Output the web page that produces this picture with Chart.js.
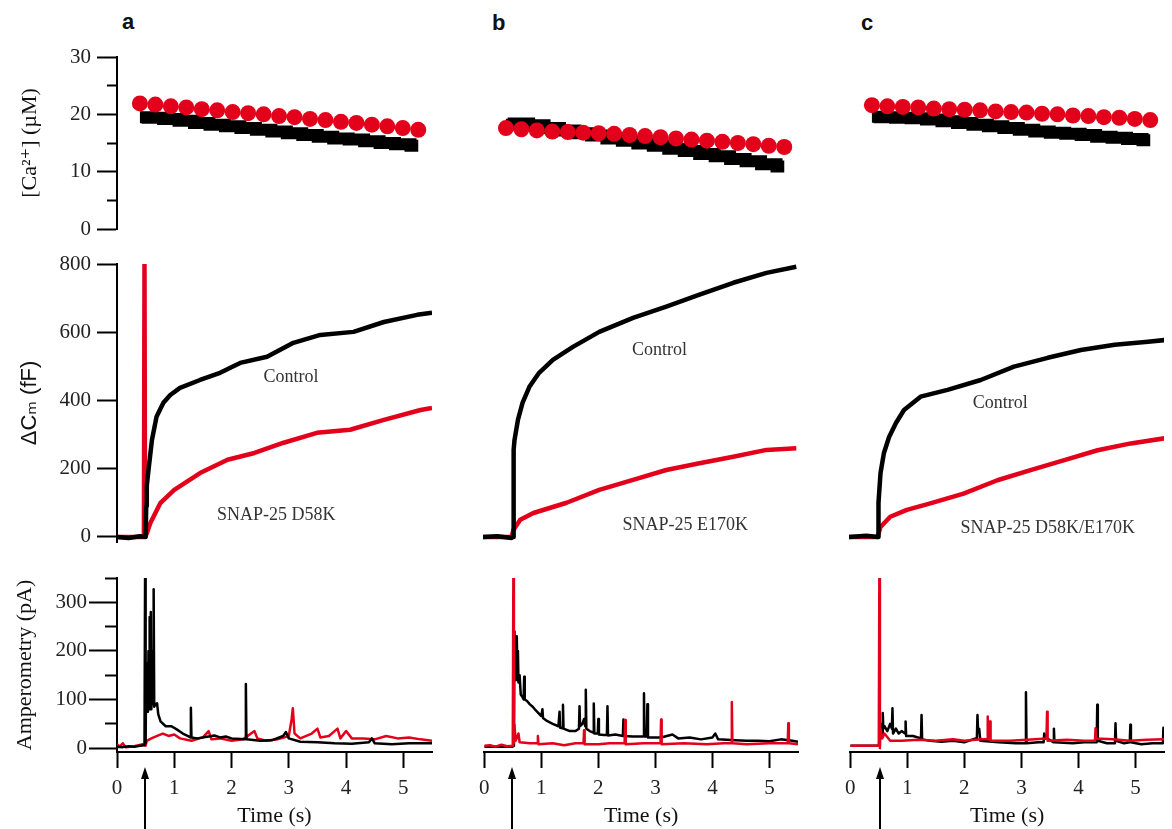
<!DOCTYPE html>
<html>
<head>
<meta charset="utf-8">
<script src="https://cdn.jsdelivr.net/npm/chart.js@4.4.1/dist/chart.umd.min.js"></script>
<style>
  html, body { margin: 0; padding: 0; background: #fff; }
  #fig { position: relative; width: 1172px; height: 829px; overflow: hidden; background: #fff; }
  #fig canvas { position: absolute; }
  .tag { position: absolute; font: bold 22px "Liberation Sans", Arial, sans-serif; line-height: 22px; color: #111; }
</style>
</head>
<body>
<div id="fig">
  <div class="tag" style="left:122px;top:11px">a</div>
  <div class="tag" style="left:492px;top:12px">b</div>
  <div class="tag" style="left:861px;top:12px">c</div>
</div>
<script>
/* ========= Datos ========= */
// [Ca2+] (µM): tiempos de muestreo compartidos
const caT = [0.40, 0.67, 0.94, 1.21, 1.48, 1.75, 2.02, 2.29, 2.56, 2.83, 3.10, 3.37, 3.64, 3.91, 4.18, 4.45, 4.72, 4.99, 5.26];
const caA_ctrl = [19.5, 19.4, 19.2, 18.9, 18.5, 18.2, 17.9, 17.6, 17.3, 17.0, 16.7, 16.4, 16.1, 15.8, 15.6, 15.3, 15.0, 14.8, 14.5];
const caA_mut  = [21.9, 21.7, 21.4, 21.2, 20.9, 20.7, 20.4, 20.2, 20.0, 19.7, 19.5, 19.2, 19.0, 18.7, 18.5, 18.2, 17.9, 17.6, 17.3];
const caB_ctrl = [18.2, 18.4, 18.1, 17.6, 17.2, 16.7, 16.3, 15.8, 15.4, 14.9, 14.5, 14.0, 13.6, 13.1, 12.7, 12.2, 11.8, 11.3, 10.9];
const caB_mut  = [17.6, 17.4, 17.2, 17.0, 16.9, 16.8, 16.7, 16.6, 16.4, 16.2, 16.0, 15.8, 15.6, 15.4, 15.2, 15.0, 14.8, 14.5, 14.3];
const caC_ctrl = [19.6, 19.5, 19.4, 19.3, 19.1, 18.8, 18.5, 18.2, 17.9, 17.6, 17.3, 17.0, 16.8, 16.6, 16.4, 16.1, 15.9, 15.7, 15.5];
const caC_mut  = [21.6, 21.4, 21.3, 21.2, 21.0, 20.9, 20.8, 20.7, 20.5, 20.4, 20.3, 20.1, 20.0, 19.8, 19.7, 19.5, 19.4, 19.2, 19.0];

// ΔCm (fF): pares [t (s), valor]
const cmA_ctrl = [[0, 0], [0.2, -3], [0.4, 2], [0.5, 0], [0.51, 90], [0.52, 150], [0.55, 196], [0.61, 284], [0.69, 352], [0.81, 393], [0.93, 416], [1.1, 437], [1.45, 460], [1.8, 481], [2.15, 510], [2.62, 528], [3.08, 569], [3.55, 592], [4.13, 601], [4.66, 630], [5.24, 651], [5.5, 657]];
const cmA_mut  = [[0, 0], [0.47, 0], [0.48, 800], [0.49, 0], [0.52, 10], [0.58, 40], [0.76, 100], [1.0, 138], [1.45, 187], [1.93, 226], [2.4, 246], [2.91, 276], [3.49, 305], [4.07, 314], [4.66, 343], [5.3, 372], [5.5, 378]];
const cmB_ctrl = [[0, 0], [0.25, 2], [0.5, -3], [0.53, 0], [0.535, 255], [0.55, 284], [0.61, 343], [0.69, 393], [0.81, 440], [0.98, 481], [1.22, 519], [1.57, 557], [2.03, 601], [2.62, 642], [3.2, 675], [3.78, 710], [4.37, 745], [4.95, 774], [5.47, 792]];
const cmB_mut  = [[0, 0], [0.5, 0], [0.53, 20], [0.65, 50], [0.88, 70], [1.46, 100], [2.03, 138], [2.62, 167], [3.2, 196], [3.78, 216], [4.37, 235], [4.95, 255], [5.47, 260]];
const cmC_ctrl = [[0, 0], [0.3, 3], [0.51, 0], [0.515, 100], [0.55, 187], [0.61, 246], [0.7, 293], [0.82, 334], [0.96, 372], [1.25, 411], [1.72, 431], [2.3, 460], [2.88, 499], [3.47, 525], [4.05, 548], [4.64, 563], [5.22, 572], [5.51, 577]];
const cmC_mut  = [[0, 0], [0.5, 0], [0.55, 29], [0.72, 59], [1.01, 79], [1.42, 98], [2.0, 127], [2.59, 166], [3.17, 196], [3.76, 225], [4.34, 254], [4.92, 274], [5.51, 289]];

// Amperometría (pA): pares [t (s), valor]
const ampA_ctrl = [[0, 3], [0.1, 2], [0.2, 4], [0.3, 3], [0.4, 5], [0.48, 6], [0.49, 350], [0.5, 10], [0.51, 170], [0.52, 80], [0.53, 175], [0.54, 75], [0.55, 200], [0.56, 80], [0.57, 270], [0.58, 85], [0.59, 280], [0.6, 80], [0.62, 200], [0.63, 90], [0.64, 327], [0.65, 85], [0.67, 90], [0.7, 92], [0.72, 70], [0.76, 55], [0.85, 45], [0.95, 45], [1.05, 38], [1.15, 30], [1.25, 24], [1.28, 22], [1.29, 83], [1.3, 22], [1.4, 20], [1.6, 24], [1.7, 26], [1.8, 22], [1.9, 24], [2.0, 20], [2.24, 18], [2.25, 132], [2.26, 18], [2.5, 15], [2.7, 16], [2.9, 25], [2.95, 33], [3.0, 20], [3.2, 13], [3.5, 12], [3.8, 10], [4.1, 9], [4.4, 12], [4.45, 20], [4.5, 10], [4.8, 8], [5.1, 10], [5.5, 10]];
const ampA_mut  = [[0, 8], [0.05, 3], [0.1, 10], [0.15, 2], [0.3, 4], [0.45, 8], [0.5, 5], [0.52, 15], [0.6, 20], [0.7, 25], [0.8, 30], [0.9, 25], [1.0, 28], [1.1, 20], [1.3, 15], [1.5, 22], [1.6, 35], [1.65, 18], [1.8, 20], [2.0, 15], [2.2, 18], [2.4, 35], [2.45, 20], [2.6, 15], [2.8, 18], [3.0, 25], [3.05, 60], [3.07, 82], [3.1, 30], [3.2, 20], [3.4, 30], [3.5, 40], [3.55, 22], [3.7, 25], [3.85, 40], [3.9, 20], [4.0, 35], [4.1, 20], [4.3, 20], [4.5, 18], [4.7, 25], [4.9, 20], [5.1, 22], [5.3, 18], [5.5, 15]];
const ampB_ctrl = [[0, 3], [0.5, 3], [0.52, 5], [0.53, 240], [0.54, 150], [0.55, 225], [0.56, 140], [0.57, 230], [0.58, 160], [0.59, 200], [0.6, 135], [0.62, 150], [0.64, 110], [0.67, 105], [0.69, 100], [0.7, 147], [0.71, 100], [0.75, 97], [0.8, 90], [0.85, 85], [0.9, 78], [0.95, 72], [1.0, 66], [1.01, 66], [1.02, 80], [1.03, 62], [1.1, 56], [1.2, 50], [1.3, 45], [1.31, 45], [1.32, 75], [1.33, 42], [1.37, 41], [1.38, 89], [1.39, 40], [1.5, 35], [1.6, 35], [1.66, 40], [1.67, 86], [1.68, 45], [1.72, 50], [1.75, 60], [1.77, 45], [1.78, 120], [1.79, 40], [1.85, 35], [1.91, 32], [1.92, 92], [1.93, 30], [1.99, 30], [2.0, 60], [2.01, 28], [2.1, 27], [2.15, 27], [2.16, 86], [2.17, 26], [2.3, 28], [2.43, 25], [2.44, 59], [2.45, 25], [2.6, 24], [2.79, 24], [2.8, 113], [2.81, 24], [2.85, 24], [2.86, 90], [2.87, 22], [3.1, 22], [3.3, 28], [3.4, 20], [3.6, 22], [3.8, 18], [4.0, 22], [4.05, 30], [4.1, 18], [4.4, 16], [4.6, 15], [4.8, 15], [5.0, 14], [5.2, 18], [5.4, 15], [5.5, 13]];
const ampB_mut  = [[0, 5], [0.1, 6], [0.2, 3], [0.3, 7], [0.4, 4], [0.5, 5], [0.51, 352], [0.52, 10], [0.53, 48], [0.55, 15], [0.6, 30], [0.62, 12], [0.8, 10], [0.93, 10], [0.94, 25], [0.95, 8], [1.2, 10], [1.4, 6], [1.6, 10], [1.74, 10], [1.75, 37], [1.76, 8], [2.0, 8], [2.2, 10], [2.46, 10], [2.47, 58], [2.48, 8], [2.8, 10], [3.09, 10], [3.1, 59], [3.11, 8], [3.5, 10], [3.9, 8], [4.2, 10], [4.33, 10], [4.34, 95], [4.35, 10], [4.6, 8], [5.0, 10], [5.32, 10], [5.33, 51], [5.34, 10], [5.5, 8]];
const ampC_ctrl = [[0, 5], [0.5, 5], [0.52, 20], [0.55, 50], [0.56, 30], [0.57, 72], [0.58, 40], [0.6, 45], [0.65, 35], [0.7, 50], [0.73, 40], [0.74, 82], [0.75, 30], [0.8, 40], [0.85, 30], [0.9, 35], [0.96, 30], [0.97, 55], [0.98, 25], [1.1, 25], [1.24, 20], [1.25, 68], [1.26, 18], [1.4, 15], [1.6, 13], [1.8, 15], [2.0, 12], [2.2, 20], [2.22, 20], [2.23, 68], [2.24, 40], [2.26, 40], [2.28, 15], [2.6, 12], [2.9, 10], [3.07, 10], [3.08, 115], [3.09, 10], [3.3, 12], [3.39, 12], [3.4, 30], [3.45, 20], [3.56, 12], [3.57, 40], [3.58, 12], [3.9, 10], [4.1, 12], [4.32, 12], [4.33, 89], [4.34, 15], [4.5, 10], [4.64, 10], [4.65, 51], [4.66, 15], [4.8, 10], [4.9, 12], [4.91, 48], [4.92, 12], [5.1, 8], [5.3, 10], [5.48, 10], [5.49, 42], [5.5, 10]];
const ampC_mut  = [[0, 5], [0.5, 5], [0.51, 352], [0.52, 0], [0.53, 40], [0.56, 20], [0.6, 30], [0.7, 15], [0.9, 15], [1.2, 17], [1.5, 15], [1.8, 18], [2.0, 15], [2.3, 18], [2.4, 18], [2.41, 65], [2.42, 20], [2.44, 20], [2.45, 55], [2.46, 15], [2.8, 15], [3.1, 17], [3.44, 20], [3.45, 75], [3.46, 15], [3.8, 17], [4.1, 15], [4.29, 15], [4.3, 41], [4.31, 20], [4.6, 18], [4.9, 15], [5.2, 17], [5.5, 18]];

// Marcas de los ejes
const timeTicks = [0, 1, 2, 3, 4, 5];
const caTicks = [0, 5, 10, 15, 20, 25, 30];
const cmTicks = [0, 200, 400, 600, 800];
const ampTicks = [0, 50, 100, 150, 200, 250, 300, 350];

// Momento del flash (flecha) y rótulos de cada columna
const flashT = [0.49, 0.48, 0.53];
const mutNames = ["SNAP-25 D58K", "SNAP-25 E170K", "SNAP-25 D58K/E170K"];
const ctrlPos = [[3.04, 469], [3.08, 548], [2.64, 393]];
const mutPos = [[2.78, 64], [3.53, 35], [3.47, 26]];

/* ========= Estilo / layout ========= */
const RED = "#e3001b";
const INK = "#000";
const SERIF = '"Liberation Serif", "DejaVu Serif", "Times New Roman", serif';
const SANS = '"Liberation Sans", "DejaVu Sans", Arial, sans-serif';
const AREA_W = 315;

Chart.defaults.font.family = SERIF;
Chart.defaults.font.size = 21;
Chart.defaults.color = "#222";

const COLS = [
  { left: 117, yAxis: true },
  { left: 483, yAxis: false },
  { left: 849, yAxis: false },
];

const ROWS = {
  ca:  { top: 57,  h: 172, room: 24, xAxis: false, min: 0,   max: 30,  ticks: caTicks,  major: 10,  tick: 20, minor: 10, pad: 6,
         title: "[Ca²⁺] (µM)", titleFont: SERIF, titlePad: 17 },
  cm:  { top: 264, h: 278, room: 24, xAxis: false, min: -15, max: 800, ticks: cmTicks,  major: 200, tick: 20, minor: 20, pad: 6,
         title: "ΔCₘ (fF)", titleFont: SANS, titlePad: 17 },
  amp: { top: 578, h: 174, room: 77, xAxis: true,  min: -8,  max: 350, ticks: ampTicks, major: 100, tick: 28, minor: 12, pad: 2,
         title: "Amperometry (pA)", titleFont: SERIF, titlePad: 12 },
};

/* ========= Helpers ========= */
const pairs = (arr) => arr.map(([x, y]) => ({ x, y }));
const zipT = (ts, vs) => ts.map((x, i) => ({ x, y: vs[i] }));
const asTicks = (vals) => (s) => { s.ticks = vals.map((value) => ({ value })); };

function caSets(ctrl, mut) {
  return [
    { data: zipT(caT, mut), showLine: false, pointRadius: 8, pointBackgroundColor: RED, pointBorderWidth: 0 },
    { data: zipT(caT, ctrl), borderColor: INK, borderWidth: 12, stepped: "middle", pointRadius: 0, borderCapStyle: "butt" },
  ];
}

function traceSets(ctrl, mut, width, redOnTop) {
  const black = { data: pairs(ctrl), borderColor: INK, borderWidth: width, pointRadius: 0, borderJoinStyle: "round" };
  const red = { data: pairs(mut), borderColor: RED, borderWidth: width, pointRadius: 0, borderJoinStyle: "round" };
  return redOnTop ? [red, black] : [black, red];
}

/* ========= Plugin: rótulos y flecha del flash ========= */
const marks = {
  id: "marks",
  afterDatasetsDraw(chart, args, opts) {
    const { ctx, chartArea } = chart;
    const x = chart.scales.x, y = chart.scales.y;
    ctx.save();
    (opts.notes || []).forEach((n) => {
      ctx.font = "18px " + SERIF;
      ctx.fillStyle = "#333";
      ctx.textAlign = "center";
      ctx.textBaseline = "middle";
      ctx.fillText(n.text, x.getPixelForValue(n.t), y.getPixelForValue(n.v));
    });
    if (opts.flash != null) {
      const px = Math.round(x.getPixelForValue(opts.flash));
      const tip = chartArea.bottom + 15;
      ctx.strokeStyle = INK;
      ctx.fillStyle = INK;
      ctx.lineWidth = 2;
      ctx.beginPath();
      ctx.moveTo(px, tip + 8);
      ctx.lineTo(px, chart.height);
      ctx.stroke();
      ctx.beginPath();
      ctx.moveTo(px, tip);
      ctx.lineTo(px - 4, tip + 12);
      ctx.lineTo(px + 4, tip + 12);
      ctx.closePath();
      ctx.fill();
    }
    ctx.restore();
  },
};

/* ========= Paneles ========= */
function makePanel(colIdx, rowKey, datasets, notes, flash) {
  const col = COLS[colIdx];
  const row = ROWS[rowKey];
  const canvasLeft = col.yAxis ? 0 : col.left - 12;
  const padLeft = col.left - canvasLeft;
  const w = padLeft + AREA_W + 12;
  const h = 20 + row.h + row.room;

  const cv = document.createElement("canvas");
  cv.width = w;
  cv.height = h;
  cv.style.left = canvasLeft + "px";
  cv.style.top = (row.top - 20) + "px";
  cv.style.width = w + "px";
  cv.style.height = h + "px";
  document.getElementById("fig").appendChild(cv);

  new Chart(cv.getContext("2d"), {
    type: "line",
    data: { datasets },
    plugins: [marks],
    options: {
      responsive: false,
      animation: false,
      events: [],
      devicePixelRatio: 1,
      layout: {
        padding: { left: col.yAxis ? 0 : padLeft, right: 12, top: 20, bottom: row.xAxis ? 0 : row.room },
      },
      plugins: {
        legend: { display: false },
        tooltip: { enabled: false },
        marks: { notes, flash },
      },
      scales: {
        x: {
          type: "linear",
          display: row.xAxis,
          min: 0,
          max: 5.5,
          afterBuildTicks: asTicks(timeTicks),
          afterFit: row.xAxis ? (s) => { s.height = row.room; } : undefined,
          border: { display: true, color: INK, width: 2 },
          grid: { drawOnChartArea: false, drawTicks: true, tickLength: 16, tickColor: INK, tickWidth: 2 },
          ticks: { padding: 8, color: "#222", maxRotation: 0, autoSkip: false },
          title: { display: true, text: "Time (s)", font: { size: 22, family: SERIF }, color: "#111", padding: { top: 0, bottom: 0 } },
        },
        y: {
          type: "linear",
          display: col.yAxis,
          min: row.min,
          max: row.max,
          afterBuildTicks: asTicks(row.ticks),
          afterFit: col.yAxis ? (s) => { s.width = col.left; } : undefined,
          border: { display: true, color: INK, width: 2 },
          grid: {
            drawOnChartArea: false,
            drawTicks: true,
            tickLength: row.tick,
            tickColor: INK,
            tickWidth: 2,
            tickBorderDash: (c) => (c.tick && c.tick.value % row.major !== 0 ? [0, row.tick - row.minor, row.tick] : []),
          },
          ticks: {
            padding: row.pad,
            color: "#222",
            autoSkip: false,
            callback: (v) => (v % row.major === 0 ? v : ""),
          },
          title: {
            display: true,
            text: row.title,
            font: { size: 22, family: row.titleFont },
            color: "#111",
            padding: { top: row.titlePad, bottom: 0 },
          },
        },
      },
    },
  });
}

/* ========= Init ========= */
const caData = [[caA_ctrl, caA_mut], [caB_ctrl, caB_mut], [caC_ctrl, caC_mut]];
const cmData = [[cmA_ctrl, cmA_mut], [cmB_ctrl, cmB_mut], [cmC_ctrl, cmC_mut]];
const ampData = [[ampA_ctrl, ampA_mut], [ampB_ctrl, ampB_mut], [ampC_ctrl, ampC_mut]];

[0, 1, 2].forEach((i) => {
  makePanel(i, "ca", caSets(caData[i][0], caData[i][1]), [], null);
  makePanel(i, "cm", traceSets(cmData[i][0], cmData[i][1], 4.5, false), [
    { text: "Control", t: ctrlPos[i][0], v: ctrlPos[i][1] },
    { text: mutNames[i], t: mutPos[i][0], v: mutPos[i][1] },
  ], null);
  makePanel(i, "amp", traceSets(ampData[i][0], ampData[i][1], 2.5, i !== 0), [], flashT[i]);
});
</script>
</body>
</html>
